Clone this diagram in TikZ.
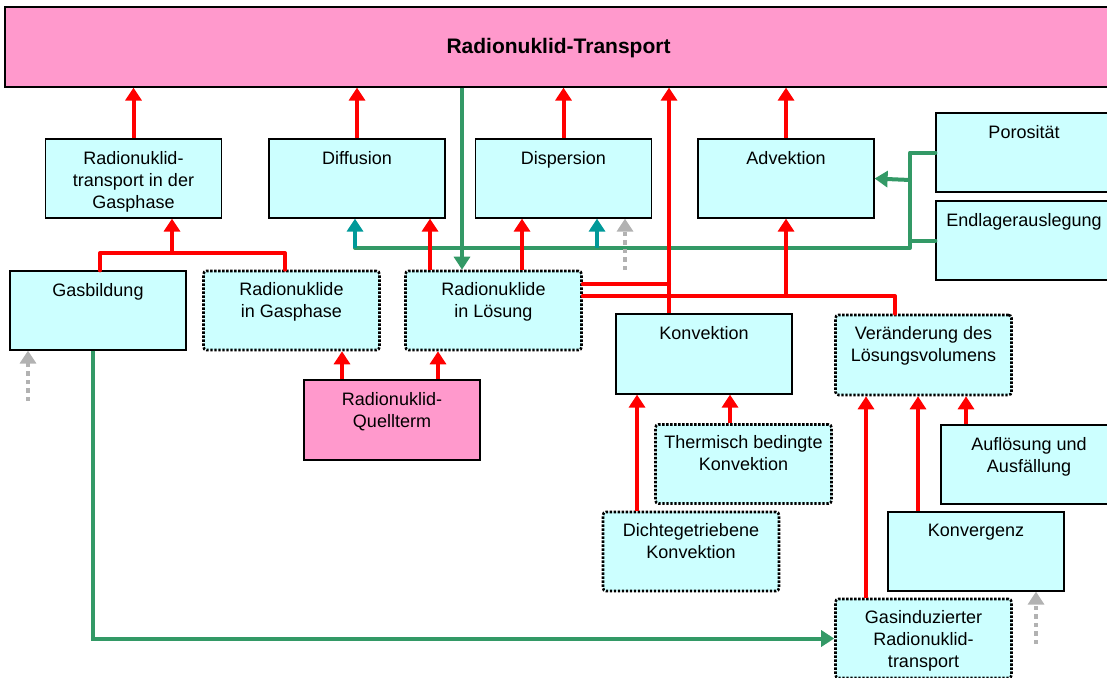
\documentclass[tikz,border=0pt]{standalone}
\usepackage{fontspec}
\setmainfont{Liberation Sans}
\usetikzlibrary{arrows.meta}
\definecolor{rosa}{RGB}{255,153,204}
\definecolor{hellblau}{RGB}{204,255,255}
\definecolor{gruen}{RGB}{51,153,102}
\definecolor{petrol}{RGB}{0,153,153}
\definecolor{hellgrau}{RGB}{178,178,178}
\tikzset{
  kasten/.style={draw=black, line width=1.2pt, fill=hellblau, minimum width=176pt, minimum height=79pt, inner sep=0pt},
  gepunktet/.style={kasten, line width=2.6pt, dash pattern=on 2.4pt off 1.6pt, rounded corners=3pt},
  quelle/.style={kasten, fill=rosa},
  beschr/.style={anchor=north, inner sep=0pt, yshift=-12.5pt, align=center, font=\fontsize{18}{22}\selectfont},
  spitze/.style={-{Triangle[width=16pt,length=13pt]}},
  rot/.style={draw=red, line width=4pt, spitze},
  rotlinie/.style={draw=red, line width=4pt, line cap=round, line join=round},
  gruenlinie/.style={draw=gruen, line width=4pt, line cap=round, line join=round},
  gruen/.style={draw=gruen, line width=4pt, spitze},
  petrol/.style={draw=petrol, line width=4pt, spitze},
  grau/.style={draw=hellgrau, line width=4.5pt, dash pattern=on 4.5pt off 4pt, spitze}
}

\begin{document}
\begin{tikzpicture}[x=1pt, y=-1pt]
  \path[use as bounding box, clip] (0,0) rectangle (1107,677);

  % Kopf
  \node[quelle, minimum width=1107pt, minimum height=80pt] (top) at (558.5,47) {};
  \node[font=\bfseries\fontsize{21}{24}\selectfont, yshift=-1.5pt] (titel) at (top.center) {Radionuklid-Transport};

  % obere Reihe
  \node[kasten] (rtgas) at (133.5,178.5) {};
  \node[beschr] at (rtgas.north) {Radionuklid-\\transport in der\\Gasphase};
  \node[kasten] (diff) at (357,178.5) {};
  \node[beschr] at (diff.north) {Diffusion};
  \node[kasten] (disp) at (563.5,178.5) {};
  \node[beschr] at (disp.north) {Dispersion};
  \node[kasten] (adv) at (786,178.5) {};
  \node[beschr] at (adv.north) {Advektion};
  \node[kasten] (poro) at (1024,152.5) {};
  \node[beschr] at (poro.north) {Porosität};
  \node[kasten] (endl) at (1024,240.5) {};
  \node[beschr] at (endl.north) {Endlagerauslegung};

  % mittlere Reihe
  \node[kasten] (gasb) at (98,310.5) {};
  \node[beschr] at (gasb.north) {Gasbildung};
  \node[gepunktet] (rngas) at (291.5,310.5) {};
  \node[beschr] at (rngas.north) {Radionuklide\\in Gasphase};
  \node[gepunktet] (rnloes) at (493.5,310.5) {};
  \node[beschr] at (rnloes.north) {Radionuklide\\in Lösung};
  \node[kasten, minimum height=80pt] (konv) at (704,354) {};
  \node[beschr] at (konv.north) {Konvektion};
  \node[gepunktet, minimum height=80pt] (veraend) at (923.5,355) {};
  \node[beschr] at (veraend.north) {Veränderung des\\Lösungsvolumens};
  \node[quelle, minimum height=80pt] (quell) at (392,420) {};
  \node[beschr] at (quell.north) {Radionuklid-\\Quellterm};

  % untere Reihe
  \node[gepunktet] (therm) at (743.5,464) {};
  \node[beschr] at (therm.north) {Thermisch bedingte\\Konvektion};
  \node[kasten] (aufl) at (1029,464.5) {};
  \node[beschr] at (aufl.north) {Auflösung und\\Ausfällung};
  \node[gepunktet] (dicht) at (691,551.5) {};
  \node[beschr] at (dicht.north) {Dichtegetriebene\\Konvektion};
  \node[kasten] (konvg) at (976,551.5) {};
  \node[beschr] at (konvg.north) {Konvergenz};
  \node[gepunktet] (gasind) at (923.5,638.5) {};
  \node[beschr] at (gasind.north) {Gasinduzierter\\Radionuklid-\\transport};

  % Hilfspunkte
  \coordinate (gl) at (355,248);
  \coordinate (gr) at (910,248);
  \coordinate (gk) at (910,180);
  \coordinate (k1) at ([xshift=-35pt]konv.north);
  \coordinate (g1) at ([xshift=-31.5pt]rnloes.north);
  \coordinate (gbar) at (172,253);
  \coordinate (ab) at (786,296);
  \coordinate (q1) at (28,401);
  \coordinate (q2) at (625,270);
  \coordinate (q3) at (1036,644);

  % gruene Verbindungen
  \draw[gruen] (g1 |- top.south) -- (g1);
  \draw[gruenlinie] (poro.west) -| (gr) -- (gl);
  \draw[gruenlinie] (endl.west) -- (endl.west -| gr);
  \draw[gruen] (gk) -- (adv.east);
  \draw[gruen] ([xshift=-5pt]gasb.south) |- (gasind.west);
  \draw[petrol] ([xshift=-2pt]diff.south |- gl) -- ([xshift=-2pt]diff.south);
  \draw[petrol] ([xshift=33.5pt]disp.south |- gl) -- ([xshift=33.5pt]disp.south);

  % graue Pfeile
  \draw[grau] (q1) -- (q1 |- gasb.south);
  \draw[grau] (q2) -- (q2 |- disp.south);
  \draw[grau] (q3) -- (q3 |- konvg.south);

  % rote Verbindungen
  \draw[rot] (rtgas.north) -- (rtgas.north |- top.south);
  \draw[rot] (diff.north) -- (diff.north |- top.south);
  \draw[rot] (disp.north) -- (disp.north |- top.south);
  \draw[rot] (adv.north) -- (adv.north |- top.south);
  \draw[rot] (k1) -- (k1 |- top.south);
  \draw[rotlinie] ([xshift=2pt]gasb.north) |- ([xshift=-6.5pt]rngas.north |- gbar) -- ([xshift=-6.5pt]rngas.north);
  \draw[rot] (gbar) -- (gbar |- rtgas.south);
  \draw[rot] ([xshift=-63.5pt]rnloes.north) -- ([xshift=-63.5pt]rnloes.north |- diff.south);
  \draw[rot] ([xshift=28.5pt]rnloes.north) -- ([xshift=28.5pt]rnloes.north |- disp.south);
  \draw[rot] ([xshift=-50pt]quell.north) -- ([xshift=-50pt]quell.north |- rngas.south);
  \draw[rot] ([xshift=46pt]quell.north) -- ([xshift=46pt]quell.north |- rnloes.south);
  \draw[rotlinie] ([yshift=26.5pt]rnloes.east) -- ([yshift=26.5pt]rnloes.east -| k1);
  \draw[rotlinie] ([yshift=14.5pt]rnloes.east) -| ([xshift=-28.5pt]veraend.north);
  \draw[rot] (ab) -- (adv.south);
  \draw[rot] ([xshift=-54pt]dicht.north) -- ([xshift=-54pt]dicht.north |- konv.south);
  \draw[rot] ([xshift=-13.5pt]therm.north) -- ([xshift=-13.5pt]therm.north |- konv.south);
  \draw[rot] ([xshift=-57.5pt]gasind.north) -- ([xshift=-57.5pt]gasind.north |- veraend.south);
  \draw[rot] ([xshift=-58pt]konvg.north) -- ([xshift=-58pt]konvg.north |- veraend.south);
  \draw[rot] ([xshift=-63pt]aufl.north) -- ([xshift=-63pt]aufl.north |- veraend.south);
\end{tikzpicture}
\end{document}
